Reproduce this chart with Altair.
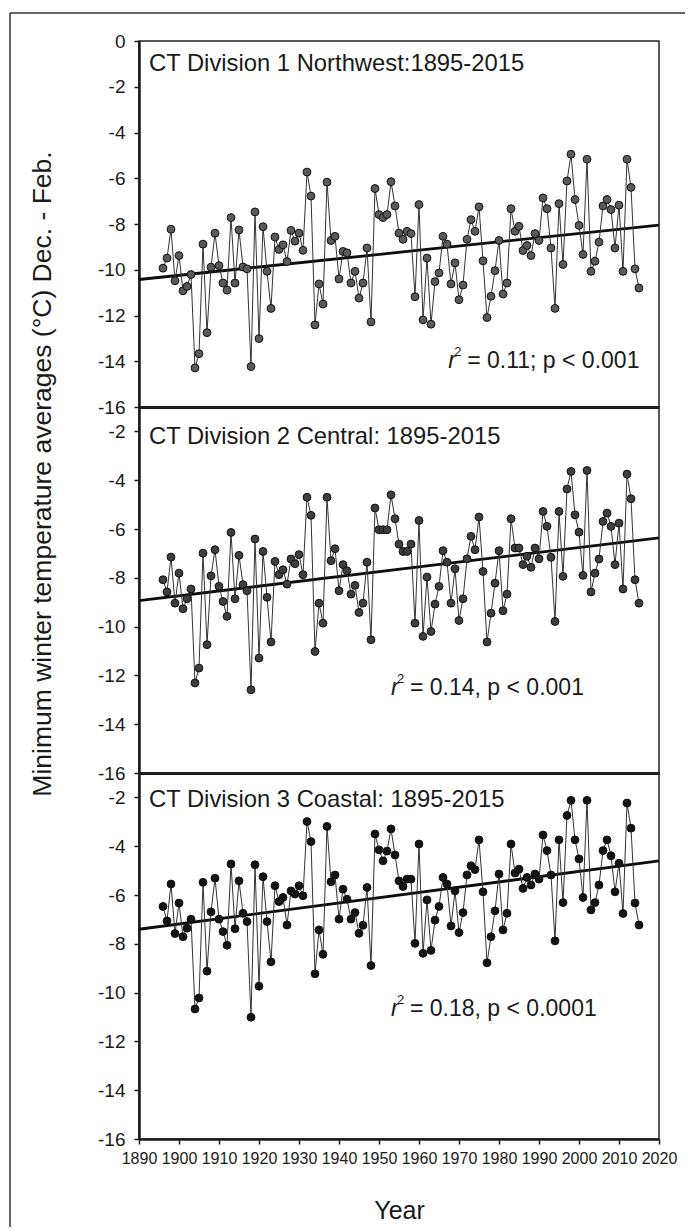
import altair as alt
import pandas as pd

years = list(range(1896, 2016))

div1 = [-9.93, -9.49, -8.23, -10.48, -9.38, -10.92, -10.73, -10.21, -14.29, -13.67,
        -8.88, -12.75, -9.89, -8.40, -9.82, -10.58, -10.89, -7.72, -10.58, -8.26,
        -9.88, -9.96, -14.23, -7.47, -13.01, -8.12, -10.07, -11.69, -8.57, -9.11,
        -8.91, -9.64, -8.28, -8.75, -8.40, -9.15, -5.73, -6.78, -12.41, -10.62,
        -11.50, -6.17, -8.72, -8.54, -10.40, -9.20, -9.26, -10.58, -10.07, -11.24,
        -10.58, -9.05, -12.28, -6.45, -7.59, -7.72, -7.59, -6.15, -7.21, -8.40,
        -8.67, -8.32, -8.42, -11.18, -7.15, -12.19, -9.49, -12.38, -10.52, -10.14,
        -8.54, -8.88, -10.62, -9.70, -11.31, -10.67, -8.67, -7.81, -8.32, -7.25,
        -9.61, -12.09, -11.16, -10.04, -8.72, -11.06, -10.58, -7.33, -8.32, -8.10,
        -9.16, -8.94, -9.38, -8.42, -8.72, -6.86, -7.33, -9.05, -11.69, -7.11,
        -9.77, -6.12, -4.95, -6.93, -8.06, -9.33, -5.17, -10.07, -9.63, -8.79,
        -7.21, -6.93, -7.37, -9.05, -7.18, -10.07, -5.17, -6.40, -9.96, -10.80]

div2 = [-8.08, -8.58, -7.15, -9.04, -7.81, -9.27, -8.86, -8.46, -12.31, -11.70,
        -6.99, -10.74, -7.92, -6.85, -8.35, -8.97, -9.58, -6.14, -8.86, -7.08,
        -8.28, -8.53, -12.59, -6.41, -11.29, -6.92, -8.80, -10.63, -7.33, -7.87,
        -7.67, -8.26, -7.23, -7.42, -7.05, -7.87, -4.70, -5.44, -11.02, -9.04,
        -9.86, -4.70, -7.30, -6.81, -8.53, -7.46, -7.71, -8.67, -8.31, -9.42,
        -9.04, -7.36, -10.54, -5.14, -6.03, -6.03, -6.03, -4.60, -5.58, -6.62,
        -6.92, -6.92, -6.62, -9.86, -5.65, -10.40, -7.97, -10.20, -9.08, -8.35,
        -6.89, -7.36, -9.04, -7.63, -9.75, -8.86, -7.22, -6.30, -6.85, -5.51,
        -7.74, -10.63, -9.45, -8.22, -6.89, -9.35, -8.67, -5.58, -6.78, -6.78,
        -7.46, -7.12, -7.57, -6.78, -7.22, -5.28, -5.89, -7.16, -9.79, -5.28,
        -7.94, -4.36, -3.64, -5.42, -6.13, -7.90, -3.60, -8.58, -7.81, -7.23,
        -5.69, -5.35, -5.89, -7.46, -5.76, -8.46, -3.75, -4.76, -8.08, -9.04]

div3 = [-6.47, -7.06, -5.55, -7.58, -6.33, -7.71, -7.36, -6.99, -10.67, -10.22,
        -5.48, -9.12, -6.69, -5.31, -6.99, -7.50, -8.06, -4.73, -7.38, -5.42,
        -6.75, -7.09, -11.01, -4.76, -9.74, -5.25, -7.09, -8.74, -5.62, -6.27,
        -6.10, -7.23, -5.83, -5.96, -5.62, -6.03, -2.99, -3.81, -9.23, -7.43,
        -8.43, -3.19, -5.46, -5.18, -6.99, -5.76, -6.17, -6.99, -6.72, -7.57,
        -7.24, -5.69, -8.89, -3.50, -4.15, -4.60, -4.20, -3.29, -4.36, -5.42,
        -5.65, -5.35, -5.35, -7.98, -3.91, -8.39, -6.20, -8.27, -7.03, -6.47,
        -5.28, -5.55, -7.27, -5.83, -7.54, -6.72, -5.18, -4.80, -4.96, -3.74,
        -5.87, -8.78, -7.71, -6.65, -5.14, -7.43, -6.75, -3.91, -5.10, -4.94,
        -5.73, -5.28, -5.59, -5.14, -5.35, -3.54, -4.18, -5.18, -7.88, -3.74,
        -6.31, -2.74, -2.12, -3.74, -4.52, -6.10, -2.12, -6.61, -6.31, -5.59,
        -4.18, -3.74, -4.39, -5.87, -4.70, -6.76, -2.23, -3.26, -6.33, -7.23]

panel_titles = ["CT Division 1 Northwest:1895-2015",
                "CT Division 2 Central: 1895-2015",
                "CT Division 3 Coastal: 1895-2015"]
stat_texts = ["= 0.11; p < 0.001", "= 0.14, p < 0.001", "= 0.18, p < 0.0001"]
# annotation anchors in data units (year, temperature)
stat_year = [1967.3, 1953.0, 1953.0]
stat_temp = [-14.29, -12.80, -10.97]

y_domains = [[-16, 0], [-16, -1], [-16, -1]]
y_ticks = [[0, -2, -4, -6, -8, -10, -12, -14, -16],
           [-2, -4, -6, -8, -10, -12, -14, -16],
           [-2, -4, -6, -8, -10, -12, -14, -16]]
x_ticks = list(range(1890, 2021, 10))

y_title = "Minimum winter temperature averages (\u00b0C) Dec. - Feb."
x_title = "Year"

FONT = "Liberation Sans"
INK = "#1a1a1a"
fills = ["#5a5a5a", "#3e3e3e", "#141414"]
title_baselines = [30, 37, 34]

W, H = 520, 366


def panel(i, values, bottom):
    df = pd.DataFrame({"Year": years, "Temp": values})
    xscale = alt.Scale(domain=[1890, 2020], nice=False, zero=False)
    yscale = alt.Scale(domain=y_domains[i], nice=False, zero=False)
    if bottom:
        xaxis = alt.Axis(values=x_ticks, labelExpr="'' + datum.value", title=x_title,
                         tickSize=5, tickWidth=1.5, labelFontSize=16, labelPadding=6,
                         labelOverlap=False, labelFlush=False,
                         titleFontSize=25, titleFontWeight="normal", titlePadding=32,
                         labelFont=FONT, titleFont=FONT, labelColor=INK, titleColor=INK,
                         grid=False, domainWidth=2.5, domainColor=INK, tickColor=INK)
    else:
        xaxis = alt.Axis(values=x_ticks, labels=False, ticks=False, title=None,
                         grid=False, domainWidth=2.8, domainColor=INK)
    yaxis = alt.Axis(values=y_ticks[i], labelExpr="'' + datum.value", title=None,
                     tickSize=5, tickWidth=1.5, labelFontSize=19, labelPadding=9,
                     labelFont=FONT, labelColor=INK, grid=False, domainWidth=2.5,
                     domainColor=INK, tickColor=INK, labelBaseline="middle",
                     labelOverlap=False, labelFlush=False)
    x = alt.X("Year:Q", scale=xscale, axis=xaxis)
    y = alt.Y("Temp:Q", scale=yscale, axis=yaxis)
    base = alt.Chart(df)
    line = base.mark_line(color="#333333", strokeWidth=1).encode(x=x, y=y)
    pts = base.mark_point(shape="circle", filled=True, fill=fills[i], stroke="#111111",
                          strokeWidth=1, size=62, opacity=1).encode(x=x, y=y)
    reg = base.transform_regression("Year", "Temp", extent=[1890, 2020]).mark_line(
        color="#0d0d0d", strokeWidth=2.8).encode(x=x, y=y)

    one = pd.DataFrame({"Year": [stat_year[i]], "Temp": [stat_temp[i]]})
    ann = alt.Chart(one)
    r_txt = ann.mark_text(text="r", font=FONT, fontSize=23, fontStyle="italic",
                          align="left", baseline="alphabetic", color=INK).encode(x=x, y=y)
    sup = ann.mark_text(text="2", font=FONT, fontSize=13, align="left",
                        baseline="alphabetic", dx=6, dy=-12, color=INK).encode(x=x, y=y)
    rest = ann.mark_text(text=stat_texts[i], font=FONT, fontSize=23, align="left",
                         baseline="alphabetic", dx=19, color=INK).encode(x=x, y=y)

    ttl = alt.Chart(pd.DataFrame({"t": [panel_titles[i]]})).mark_text(
        font=FONT, fontSize=23.8, align="left", baseline="alphabetic", color=INK
    ).encode(text="t:N", x=alt.value(10), y=alt.value(title_baselines[i]))

    layers = [reg, line, pts, r_txt, sup, rest, ttl]
    if i == 0:
        frame = alt.Chart(pd.DataFrame({"k": [0]}))
        top_border = frame.mark_rule(color="#333333", strokeWidth=1.5).encode(
            x=alt.value(-129), x2=alt.value(546), y=alt.value(-28))
        left_border = frame.mark_rule(color="#333333", strokeWidth=1.5).encode(
            x=alt.value(-129), y=alt.value(-28), y2=alt.value(1186))
        layers += [top_border, left_border]
    if i == 1:
        yt = alt.Chart(pd.DataFrame({"t": [y_title]})).mark_text(
            font=FONT, fontSize=26.5, angle=270, align="center", baseline="middle",
            color=INK).encode(text="t:N", x=alt.value(-96), y=alt.value(67))
        layers.append(yt)
    return alt.layer(*layers).properties(width=W, height=H)


chart = alt.vconcat(
    panel(0, div1, False),
    panel(1, div2, False),
    panel(2, div3, True),
    spacing=0,
    bounds="flush",
).properties(
    padding={"left": 8, "top": 11, "right": 0, "bottom": 0},
    background="white",
).configure_view(
    stroke="#222222", strokeWidth=1.5
)

chart.save("out.html", embed_options={"renderer": "svg", "actions": False})
